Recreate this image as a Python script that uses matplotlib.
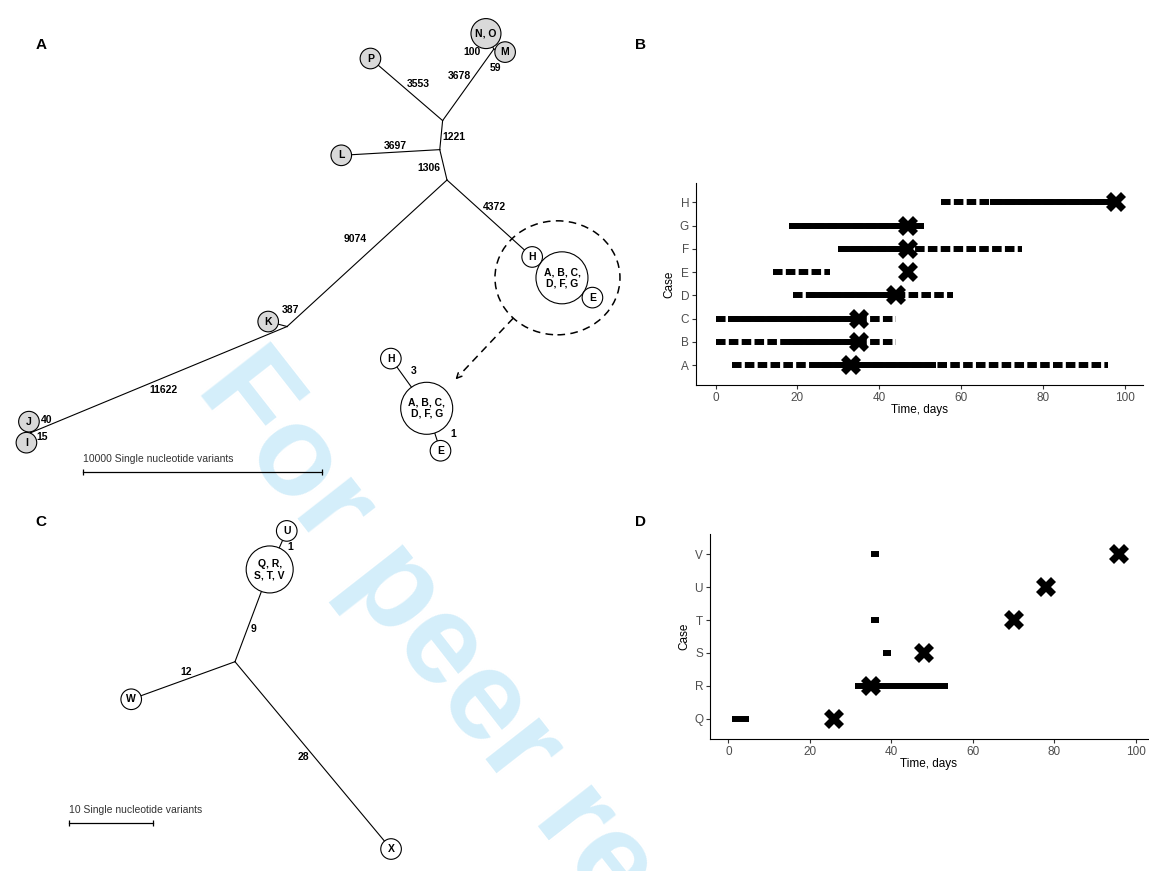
import numpy as np
import matplotlib
matplotlib.use('Agg')
from matplotlib import pyplot as plt
from matplotlib.patches import Circle, Ellipse

plt.rcParams['font.family'] = ['Liberation Sans', 'DejaVu Sans']

W, H = 1149, 871

# ---- panel A: whole-genome tree, branch lengths in SNVs ----
aEdges = [
  ('n3', 'n2', 1306), ('n2', 'n1', 1221), ('n2', 'L', 3697),
  ('n1', 'P', 3553), ('n1', 'n5', 3678), ('n5', 'NO', 100), ('n5', 'M', 59),
  ('n3', 'H', 4372), ('H', 'ABC', 3), ('ABC', 'E', 1),
  ('n3', 'n4', 9074), ('n4', 'K', 387), ('n4', 'n6', 11622),
  ('n6', 'J', 40), ('n6', 'I', 15),
]
aNodeText = {'P': 'P', 'NO': 'N, O', 'M': 'M', 'L': 'L', 'K': 'K', 'J': 'J', 'I': 'I',
             'H': 'H', 'ABC': 'A, B, C,\nD, F, G', 'E': 'E'}
aGrey = ['P', 'NO', 'M', 'L', 'K', 'J', 'I']
aScaleSnv = 10000

# zoomed view of the cluster
insetEdges = [('ABC', 'H', 3), ('ABC', 'E', 1)]

# ---- panel C ----
cEdges = [('c0', 'QRSTV', 9), ('QRSTV', 'U', 1), ('c0', 'W', 12), ('c0', 'X', 28)]
cNodeText = {'QRSTV': 'Q, R,\nS, T, V', 'U': 'U', 'W': 'W', 'X': 'X'}
cScaleSnv = 10

# ---- panel B: timeline per case (days) ----
bCases = ['A', 'B', 'C', 'D', 'E', 'F', 'G', 'H']
bDashStart = [4, 0, 0, 19, 14, 30, 18, 55]
bDashEnd = [96, 44, 44, 58, 28, 75, 51, 99]
bSolidStart = [25, 18, 3, 22, None, 30, 18, 67]
bSolidEnd = [54, 35, 35, 44, None, 47, 50, 99]
bCrossDay = [33, 35, 35, 44, 47, 47, 47, 98]

# ---- panel D ----
dCases = ['Q', 'R', 'S', 'T', 'U', 'V']
dSolidStart = [1, 31, 38, 35, None, 35]
dSolidEnd = [5, 54, 40, 37, None, 37]
dCrossDay = [26, 35, 48, 70, 78, 96]

# layout: branch angles (deg) and label offsets (px)
aAngles = {('n3', 'n2'): 103.4, ('n2', 'n1'): 84.4, ('n2', 'L'): 183.3,
           ('n1', 'P'): 139.3, ('n1', 'n5'): 54.4, ('n5', 'NO'): 116.7, ('n5', 'M'): -14.7,
           ('n3', 'H'): -42.1, ('H', 'ABC'): -35, ('ABC', 'E'): -33,
           ('n3', 'n4'): 222.5, ('n4', 'K'): 165.3, ('n4', 'n6'): 202.5,
           ('n6', 'J'): 97.9, ('n6', 'I'): 247.6}
aOffsets = {('n3', 'n2'): (-15, -3), ('n2', 'n1'): (13, -2), ('n2', 'L'): (0, 6),
            ('n1', 'P'): (8, 9), ('n1', 'n5'): (-9, 9), ('n5', 'NO'): (-21, -4),
            ('n5', 'M'): (1, -19), ('n3', 'H'): (9, 8), ('n3', 'n4'): (-12, 14),
            ('n4', 'K'): (8, 15), ('n4', 'n6'): (5, -10), ('n6', 'J'): (16, 12),
            ('n6', 'I'): (12, -4)}
aRadiusPx = {'P': 10.3, 'NO': 15, 'M': 10.3, 'L': 10.3, 'K': 10.3, 'J': 10.3, 'I': 10.3,
             'H': 10.3, 'ABC': 26, 'E': 10.3}
insetAngles = {('ABC', 'H'): 125.8, ('ABC', 'E'): -72}
insetOffsets = {('ABC', 'H'): (9, 6), ('ABC', 'E'): (17, 3)}
cAngles = {('c0', 'QRSTV'): 69.4, ('QRSTV', 'U'): 66.1, ('c0', 'W'): 199.9, ('c0', 'X'): -50.2}
cOffsets = {('c0', 'QRSTV'): (5, -2), ('QRSTV', 'U'): (9, -2.5), ('c0', 'W'): (-2, 7),
            ('c0', 'X'): (-6, -6)}
cRadiusPx = {'QRSTV': 23.5, 'U': 10.3, 'W': 10.3, 'X': 10.3}


def pxAxes(fig, left, top, right, bottom):
  return fig.add_axes([left/W, 1 - bottom/H, (right - left)/W, (bottom - top)/H])


def treeAxes(fig, box, root, perPx):
  # data units are SNVs, root node sits at (0, 0)
  left, top, right, bottom = box
  ax = pxAxes(fig, *box)
  ax.set_xlim((left - root[0])*perPx, (right - root[0])*perPx)
  ax.set_ylim((root[1] - bottom)*perPx, (root[1] - top)*perPx)
  ax.axis('off')
  ax.patch.set_visible(False)
  return ax


def drawTree(ax, edges, angles, offsets, radius, unit, origin=(0, 0), hidden=()):
  pos = {edges[0][0]: np.array(origin, float)}
  for parent, child, length in edges:
    a = np.deg2rad(angles[parent, child])
    u = np.array([np.cos(a), np.sin(a)])
    rp, rc = radius.get(parent, 0), radius.get(child, 0)
    pos[child] = pos[parent] + (length*unit + rp + rc)*u
    ax.plot(*zip(pos[parent], pos[child]), color='black', lw=0.8, zorder=1)
    if (parent, child) in hidden:
      continue
    mid = pos[parent] + (rp + length*unit/2)*u
    ax.annotate(str(length), mid, xytext=offsets[parent, child], textcoords='offset pixels',
                ha='center', va='center', fontsize=7.5, fontweight='bold')
  return pos


def drawNodes(ax, pos, radius, text, grey=()):
  for name, r in radius.items():
    if name not in pos:
      continue
    fc = '#d9d9d9' if name in grey else 'white'
    ax.add_patch(Circle(pos[name], r, fc=fc, ec='black', lw=0.8, zorder=2))
    ax.text(*pos[name], text[name], ha='center', va='center', fontsize=7.5,
            fontweight='bold', linespacing=1.15, zorder=3)


def scaleBar(ax, x0, y0, length, txt, perPx):
  ax.plot([x0, x0 + length], [y0, y0], color='black', lw=0.9)
  ax.plot([x0, x0 + length], [y0, y0], ls='none', marker='|', ms=4, mew=0.9, color='black')
  ax.text(x0, y0 + 13*perPx, txt, ha='left', va='center', fontsize=7.5, color='#333333')


def drawTimeline(ax, cases, solidStart, solidEnd, crossDay, dashStart=None, dashEnd=None):
  y = np.arange(1, len(cases) + 1)
  for i in range(len(cases)):
    if dashStart is not None:
      ax.plot([dashStart[i], dashEnd[i]], [y[i]]*2, color='black', lw=4.3,
              ls=(0, (1.6, 0.55)), dash_capstyle='butt', zorder=1)
    if solidStart[i] is not None:
      ax.plot([solidStart[i], solidEnd[i]], [y[i]]*2, color='black', lw=4.3,
              solid_capstyle='butt', zorder=2)
  ax.plot(crossDay, y, ls='none', marker='X', ms=14, mew=0, color='black', zorder=3)
  ax.set_yticks(y)
  ax.set_yticklabels(cases)
  ax.set_xticks([0, 20, 40, 60, 80, 100])
  for side in ['top', 'right']:
    ax.spines[side].set_visible(False)
  for side in ['left', 'bottom']:
    ax.spines[side].set_linewidth(0.8)
  ax.tick_params(length=3, width=0.8, color='#333333', labelsize=8.5, labelcolor='#4d4d4d', pad=2)
  ax.set_xlabel('Time, days', fontsize=8.5, labelpad=0)
  ax.set_ylabel('Case', fontsize=8.5, labelpad=3)
  ax.patch.set_visible(False)


fig = plt.figure(figsize=(W/100, H/100), dpi=100)

# panel A
sA = aScaleSnv/239.
rootA = (447, 180)
axA = treeAxes(fig, (0, 0, 640, 500), rootA, sA)
radA = {k: v*sA for k, v in aRadiusPx.items()}
posA = drawTree(axA, aEdges, aAngles, aOffsets, radA, 1., hidden=[('H', 'ABC'), ('ABC', 'E')])
drawNodes(axA, posA, radA, aNodeText, aGrey)

ctr = posA['ABC'] + np.array([-4.5*sA, 0])
axA.add_patch(Ellipse(ctr, 125*sA, 114*sA, fill=False, ec='black', lw=1.1,
                      ls=(0, (5, 3.5)), zorder=1))

insetRoot = np.array([(426.7 - rootA[0])*sA, (rootA[1] - 408.3)*sA])
posI = drawTree(axA, insetEdges, insetAngles, insetOffsets, radA, 8.33*sA, origin=insetRoot)
drawNodes(axA, posI, radA, aNodeText)

t = np.deg2rad(225)
arrStart = ctr + np.array([62.5*sA*np.cos(t), 57*sA*np.sin(t)])
arrEnd = insetRoot + 38*sA*np.array([np.cos(np.pi/4), np.sin(np.pi/4)])
axA.plot(*zip(arrStart, arrEnd + (arrStart - arrEnd)*0.1), color='black', lw=1.1,
         ls=(0, (5, 3.5)))
axA.annotate('', xy=arrEnd, xytext=arrEnd + (arrStart - arrEnd)*0.1,
             arrowprops=dict(arrowstyle='->', lw=1.1, color='black', mutation_scale=9))

scaleBar(axA, (83.3 - rootA[0])*sA, (rootA[1] - 471.7)*sA, aScaleSnv,
         '10000 Single nucleotide variants', sA)

# panel C
sC = cScaleSnv/83.4
rootC = (235, 661.7)
axC = treeAxes(fig, (0, 500, 640, 871), rootC, sC)
radC = {k: v*sC for k, v in cRadiusPx.items()}
posC = drawTree(axC, cEdges, cAngles, cOffsets, radC, 1.)
drawNodes(axC, posC, radC, cNodeText)
scaleBar(axC, (69.3 - rootC[0])*sC, (rootC[1] - 822.7)*sC, cScaleSnv,
         '10 Single nucleotide variants', sC)

# panel B
axB = pxAxes(fig, 696, 183, 1143, 385)
drawTimeline(axB, bCases, bSolidStart, bSolidEnd, bCrossDay, bDashStart, bDashEnd)
axB.set_xlim(-4.8, 104.5)
axB.set_ylim(0.15, 8.83)

# panel D
axD = pxAxes(fig, 710, 534, 1148, 739)
drawTimeline(axD, dCases, dSolidStart, dSolidEnd, dCrossDay)
axD.set_xlim(-4.5, 103)
axD.set_ylim(0.39, 6.61)

for lab, x, y in [('A', 41, 45), ('B', 641, 45), ('C', 41, 522), ('D', 641, 522)]:
  fig.text(x/W, 1 - y/H, lab, ha='center', va='center', fontsize=11, fontweight='bold')

fig.text(195/W, 1 - 388/H, 'For peer review', rotation=-52, rotation_mode='anchor',
         ha='left', va='baseline', fontsize=92, fontweight='bold', color='#d4eefa', zorder=-1)

fig.savefig('out.png', dpi=100)
